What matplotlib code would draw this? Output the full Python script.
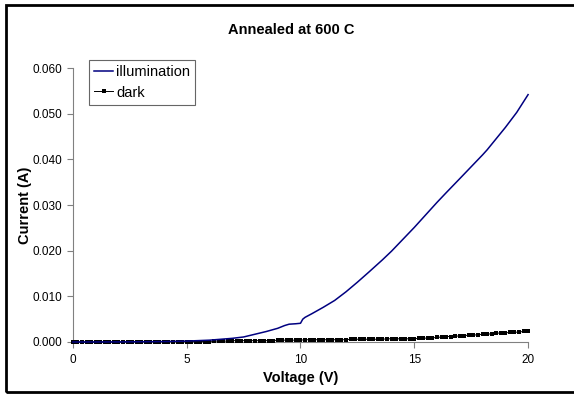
import numpy as np
import matplotlib
matplotlib.use('Agg')
import matplotlib.pyplot as plt
from matplotlib.patches import Rectangle

plt.rcParams['font.family'] = ['Liberation Sans', 'DejaVu Sans']

# Illumination curve (V, A)
illum_voltage = [0, 2, 4, 5, 6, 6.5, 7, 7.5, 8, 8.5, 9, 9.3, 9.5, 9.8, 10.0,
                 10.1, 10.2, 10.5, 11, 11.5, 12, 12.5, 13, 13.6, 14, 15, 16,
                 16.4, 17, 18, 18.2, 19, 19.5, 20]
illum_current = [0.0, 0.00002, 0.0001, 0.0002, 0.0004, 0.0006, 0.0008, 0.0011,
                 0.0017, 0.0023, 0.0030, 0.0036, 0.0039, 0.0040, 0.0041,
                 0.0050, 0.0054, 0.0062, 0.0076, 0.0091, 0.0110, 0.0131,
                 0.0153, 0.0180, 0.0199, 0.0251, 0.0306, 0.0327, 0.0358,
                 0.0410, 0.0421, 0.0470, 0.0503, 0.0542]

# Dark curve, sweep 0..20 V in 0.2 V steps (A)
dark_current = ([0.0] * 12 + [0.0001] * 19 + [0.0002] * 4 + [0.0003] * 10 +
                [0.0004] * 6 + [0.0005] * 10 + [0.0006] * 8 + [0.0007] * 7 +
                [0.0008, 0.0008, 0.0009, 0.0009, 0.0010,
                 0.0011, 0.0012, 0.0012, 0.0013, 0.0013,
                 0.0014, 0.0015, 0.0015, 0.0016, 0.0017,
                 0.0017, 0.0018, 0.0019, 0.0020, 0.0020,
                 0.0021, 0.0021, 0.0022, 0.0023, 0.0024])
dark_voltage = np.linspace(0, 20, len(dark_current))

x_ticks = [0, 5, 10, 15, 20]
y_ticks = [0.0, 0.01, 0.02, 0.03, 0.04, 0.05, 0.06]

fig = plt.figure(figsize=(5.74, 3.94), dpi=100)
ax = fig.add_axes([0.127, 0.132, 0.793, 0.695])

ax.plot(dark_voltage, dark_current, color='black', lw=0.7, marker='s',
        markersize=2.7, markeredgewidth=0, label='dark', clip_on=False, zorder=3)
ax.plot(illum_voltage, illum_current, color='#000080', lw=1.1,
        label='illumination', clip_on=False, zorder=4)

ax.set_xlim(0, 20)
ax.set_ylim(0, 0.06)
ax.set_xticks(x_ticks)
ax.set_yticks(y_ticks)
ax.set_yticklabels(['%.3f' % v for v in y_ticks])
for s in ['top', 'right']:
    ax.spines[s].set_visible(False)
for s in ['left', 'bottom']:
    ax.spines[s].set_color('#808080')
    ax.spines[s].set_linewidth(0.8)
ax.tick_params(colors='#808080', labelcolor='black', labelsize=8.5, length=4, width=0.8)
ax.tick_params(axis='x', pad=5)
ax.tick_params(axis='y', pad=4)
ax.set_xlabel('Voltage (V)', fontsize=10.5, fontweight='bold', labelpad=3)
ax.set_ylabel('Current (A)', fontsize=10.5, fontweight='bold', labelpad=0)

fig.text(0.507, 0.924, 'Annealed at 600 C', ha='center', va='center',
         fontsize=10.5, fontweight='bold')

handles, labels = ax.get_legend_handles_labels()
leg = ax.legend(handles[::-1], labels[::-1], loc='upper left',
                bbox_to_anchor=(0.155, 0.848), bbox_transform=fig.transFigure,
                fontsize=10.5, frameon=True, fancybox=False, handlelength=1.3,
                handletextpad=0.2, borderpad=0.35, labelspacing=0.45,
                borderaxespad=0)
leg.get_frame().set_edgecolor('#404040')
leg.get_frame().set_linewidth(0.8)

fig.patches.append(Rectangle((0.0105, 0.005), 1.0, 0.982, transform=fig.transFigure,
                             fill=False, edgecolor='black', linewidth=2))

fig.savefig('out.png', dpi=100)
